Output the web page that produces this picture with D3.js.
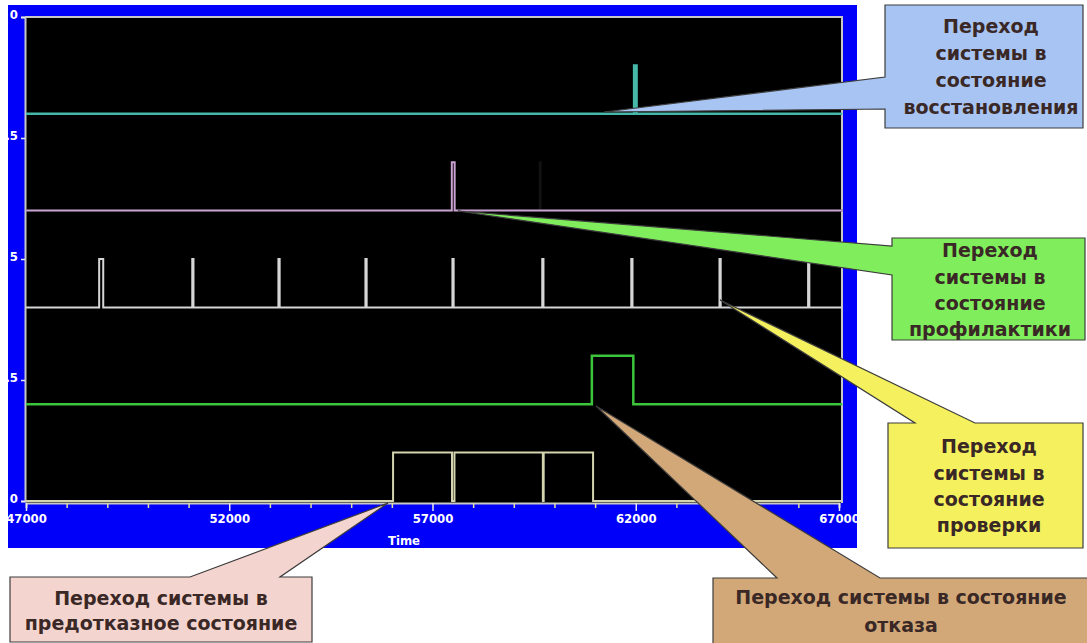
<!DOCTYPE html>
<html><head><meta charset="utf-8">
<script src="https://cdn.jsdelivr.net/npm/d3@7/dist/d3.min.js"></script>
<style>
html,body{margin:0;padding:0;background:#fff;}
svg{display:block;}
</style></head>
<body><svg id="c" width="1087" height="643"></svg>
<script>
// ---- data ----
const timeTicks = [47000, 52000, 57000, 62000, 67000];
const yTickValues = [0, 2.5, 5, 7.5, 10];
const yTickLabels = ["0", ".5", "5", ".5", "0"]; // visible (clipped) labels
const timeDomain = [47000, 67000];
const xLabel = "Time";

// state traces: baseline level, pulse level, pulses [start, end]
const restoreBase = 8, restoreHigh = 9;
const restorePulses = [[61960, 62020]];
const maintBase = 6, maintHigh = 7;
const maintPulses = [[57475, 57545]];
const maintFaintPulses = [[59640, 59660]];
const checkBase = 4, checkHigh = 5;
const checkPulses = [[48800, 48900], [51090, 51120], [53210, 53240], [55350, 55380], [57490, 57520], [59700, 59730], [61890, 61920], [64060, 64090], [66240, 66270]];
const failBase = 2, failHigh = 3;
const failPulses = [[60920, 61940]];
const prefailBase = 0, prefailHigh = 1;
const prefailPulses = [[56030, 57480], [57540, 59715], [59735, 60950]];

// callouts
const calloutTexts = {
  restore: ["Переход", "системы в", "состояние", "восстановления"],
  maint: ["Переход", "системы в", "состояние", "профилактики"],
  check: ["Переход", "системы в", "состояние", "проверки"],
  prefail: ["Переход системы в", "предотказное состояние"],
  fail: ["Переход системы в состояние", "отказа"]
};

// ---- drawing ----
const svg = d3.select("#c");
const x = d3.scaleLinear().domain(timeDomain).range([26, 839]);
const y = d3.scaleLinear().domain([0, 10]).range([501, 17]);

svg.append("rect").attr("x", 8).attr("y", 5).attr("width", 849).attr("height", 543).attr("fill", "#0000fa");
svg.append("rect").attr("x", 26).attr("y", 17).attr("width", 816).attr("height", 486).attr("fill", "#000");
const frameCol = "#c8c8c8";
svg.append("path").attr("d", "M25,17H842V503").attr("fill", "none").attr("stroke", frameCol).attr("stroke-width", 2);

// axes
const axFont = "'Liberation Sans Narrow','DejaVu Sans Condensed',sans-serif";
const xAxis = svg.append("g").attr("transform", "translate(0,503)")
  .call(d3.axisBottom(x).tickValues(d3.range(47000, 67001, 1000)).tickSize(5)
    .tickFormat(d => timeTicks.includes(d) ? String(d) : ""));
xAxis.select(".domain").attr("stroke", frameCol).attr("stroke-width", 2);
xAxis.selectAll(".tick line").attr("stroke", d => timeTicks.includes(d) ? "#e8e8e8" : "#e0e0a0").attr("stroke-width", 1.5)
  .attr("y2", d => timeTicks.includes(d) ? 8 : 5);
xAxis.selectAll(".tick text").attr("fill", "#fff").attr("font-family", axFont).attr("font-weight", "bold")
  .attr("font-size", 13).attr("dy", "0.7em").attr("y", 11);

svg.append("text").attr("x", 404).attr("y", 545).attr("text-anchor", "middle").attr("fill", "#fff")
  .attr("font-family", axFont).attr("font-weight", "bold").attr("font-size", 13).text(xLabel);

const yAxis = svg.append("g").attr("transform", "translate(25,0)")
  .call(d3.axisLeft(y).tickValues(yTickValues).tickSize(4)
    .tickFormat((d, i) => yTickLabels[i]));
yAxis.select(".domain").attr("stroke", frameCol).attr("stroke-width", 2);
yAxis.selectAll(".tick line").attr("stroke", "#e8e8e8").attr("stroke-width", 1.5);
yAxis.selectAll(".tick text").attr("fill", "#fff").attr("font-family", axFont).attr("font-weight", "bold")
  .attr("font-size", 13).attr("x", -7).attr("dy", "0.1em");

// traces
function stepPoints(base, high, pulses) {
  const pts = [[timeDomain[0], base]];
  pulses.forEach(([s, e]) => { pts.push([s, base], [s, high], [e, high], [e, base]); });
  pts.push([timeDomain[1] + 80, base]);
  return pts;
}
const line = d3.line().x(d => x(d[0])).y(d => y(d[1]));
const traces = [
  {pts: stepPoints(maintBase, maintHigh, maintFaintPulses), col: "#121212", w: 2},
  {pts: stepPoints(restoreBase, restoreHigh, restorePulses), col: "#46b8aa", w: 2.5},
  {pts: stepPoints(maintBase, maintHigh, maintPulses), col: "#c9a2d2", w: 2},
  {pts: stepPoints(checkBase, checkHigh, checkPulses), col: "#d6d6d6", w: 2},
  {pts: stepPoints(failBase, failHigh, failPulses), col: "#3cc43c", w: 2.5},
  {pts: stepPoints(prefailBase, prefailHigh, prefailPulses), col: "#d4d4ae", w: 2}
];
traces.forEach(t => svg.append("path").attr("d", line(t.pts)).attr("fill", "none")
  .attr("stroke", t.col).attr("stroke-width", t.w));

// callouts
const calloutFont = "'DejaVu Sans',sans-serif";
function callout(poly, fill, lines, cx, baselines, fs) {
  svg.append("path").attr("d", "M" + poly.map(p => p.join(",")).join("L") + "Z")
    .attr("fill", fill).attr("stroke", "#3c3c3c").attr("stroke-width", 1.2).attr("stroke-linejoin", "miter");
  lines.forEach((t, i) => svg.append("text").attr("x", cx).attr("y", baselines[i]).attr("text-anchor", "middle")
    .attr("font-family", calloutFont).attr("font-weight", "bold").attr("font-size", fs).attr("fill", "#3a2826").text(t));
}
callout([[885,5],[1083,5],[1083,128],[885,128],[885,109],[604,112],[885,77]], "#a8c4f2",
  calloutTexts.restore, 991, [33, 60, 87, 114], 19);
callout([[892,238],[1085,238],[1085,340],[892,340],[892,275],[458,211],[892,246]], "#80ee5c",
  calloutTexts.maint, 990, [257, 284, 310, 336], 19);
callout([[888,423],[915,423],[720,300],[975,423],[1083,423],[1083,548],[888,548]], "#f4f05e",
  calloutTexts.check, 989, [453, 480, 506, 532], 19);
callout([[10,577],[190,577],[388,503],[280,577],[312,577],[312,642],[10,642]], "#f4d4ce",
  calloutTexts.prefail, 161, [605, 630], 19);
callout([[713,578],[777,578],[596,406],[880,578],[1092,578],[1092,650],[713,650]], "#d3a878",
  calloutTexts.fail, 901, [604, 632], 19);
</script></body></html>
